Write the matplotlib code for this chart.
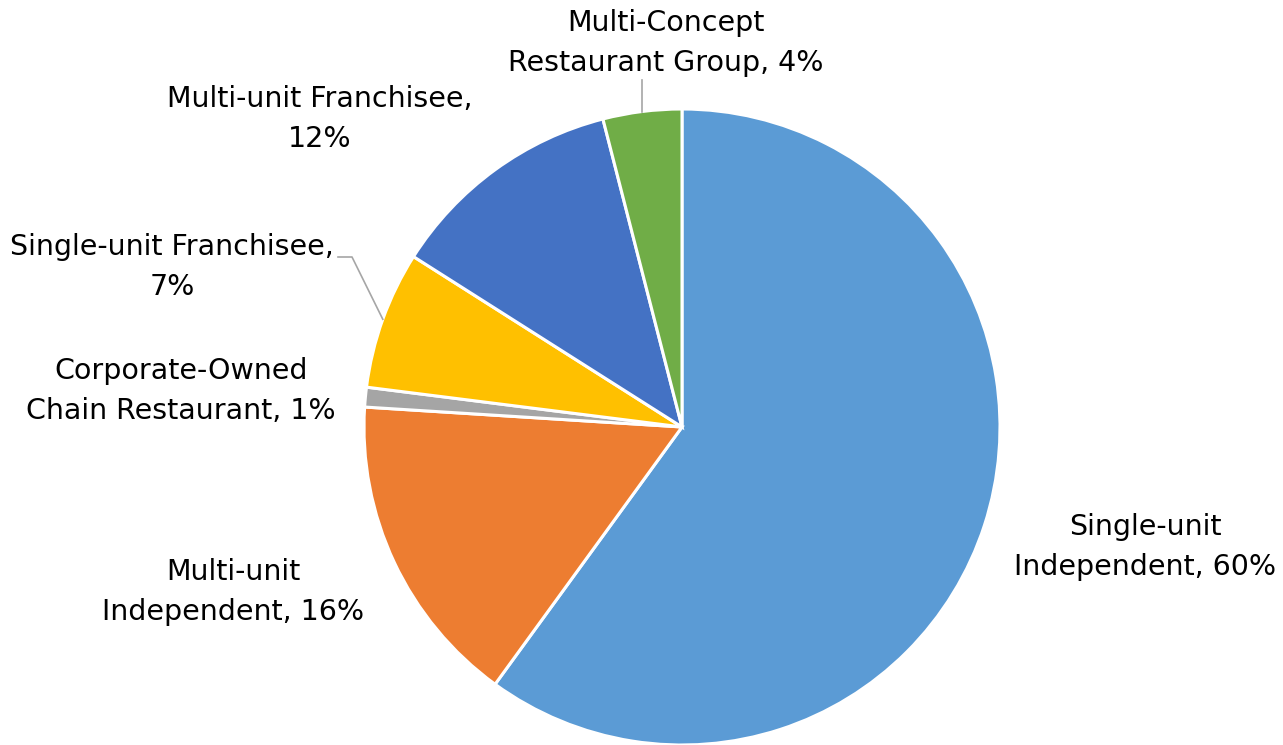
import numpy as np
import matplotlib
matplotlib.use("Agg")
import matplotlib.pyplot as plt

# Restaurant operator types, share of respondents (%)
categories = [
    "Single-unit\nIndependent",
    "Multi-unit\nIndependent",
    "Corporate-Owned\nChain Restaurant",
    "Single-unit Franchisee,\n",
    "Multi-unit Franchisee,\n",
    "Multi-Concept\nRestaurant Group",
]
shares = [60, 16, 1, 7, 12, 4]
colors = ["#5B9BD5", "#ED7D31", "#A5A5A5", "#FFC000", "#4472C4", "#70AD47"]

W, H = 1283, 745
CX, CY, R = 682, 427, 318  # pie centre / radius in pixels


def px(x, y):
    """pixel position -> data coords (pie radius = 1)"""
    return (x - CX) / R, (CY - y) / R


# label centres in pixels
label_pos = [(1145, 547), (233, 592), (181, 391), (172, 267), (320, 119), (666, 43)]

fig = plt.figure(figsize=(W / 100, H / 100), dpi=100)
ax = fig.add_axes([0, 0, 1, 1])
ax.pie(shares, colors=colors, startangle=90, counterclock=False, radius=1,
       wedgeprops=dict(edgecolor="white", linewidth=2.2))
x0, y1 = px(0, 0)
x1, y0 = px(W, H)
ax.set_xlim(x0, x1)
ax.set_ylim(y0, y1)
ax.set_aspect("equal")
ax.axis("off")

for cat, val, (lx, ly) in zip(categories, shares, label_pos):
    if cat.endswith("\n"):
        text = f"{cat}{val}%"
    else:
        text = f"{cat}, {val}%"
    tx, ty = px(lx, ly)
    ax.text(tx, ty, text, ha="center", va="center", fontsize=20.5,
            family="DejaVu Sans", linespacing=1.57, color="#000000")

# leader lines to the two thin slices at the top left
cum = np.cumsum([0] + shares)
mid = {i: np.deg2rad(90 - 3.6 * (cum[i] + shares[i] / 2)) for i in range(len(shares))}

# Multi-Concept Restaurant Group
a = mid[5]
ex, ey = np.cos(a), np.sin(a)
sx, sy = px(0, 80)
ax.plot([ex, ex], [sy, ey], color="#A6A6A6", lw=1.2)

# Single-unit Franchisee
a = mid[3]
ex, ey = np.cos(a), np.sin(a)
ax1, ay1 = px(338, 257)
ax2, _ = px(352, 257)
ax.plot([ax1, ax2, ex], [ay1, ay1, ey], color="#A6A6A6", lw=1.2)

fig.savefig("out.png", dpi=100)
plt.close(fig)
